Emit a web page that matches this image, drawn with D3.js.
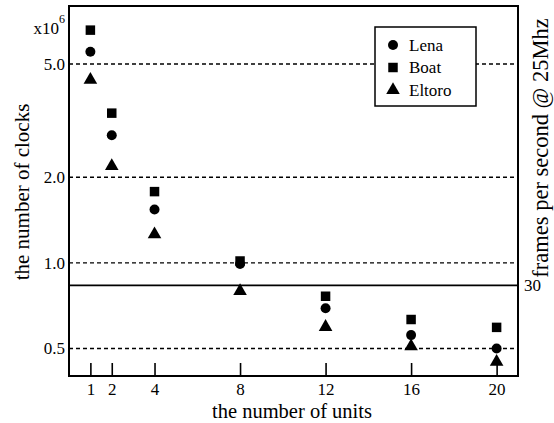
<!DOCTYPE html>
<html>
<head>
<meta charset="utf-8">
<script src="https://cdn.jsdelivr.net/npm/d3@7"></script>
<style>
  body { margin: 0; background: #fff; }
  svg text { font-family: "Liberation Serif", "DejaVu Serif", serif; fill: #000; }
</style>
</head>
<body>
<svg id="chart" width="554" height="423"></svg>
<script>
// units on the x axis
const units = [1, 2, 4, 8, 12, 16, 20];
// clocks, in millions
const lena = [5.52, 2.81, 1.54, 0.99, 0.692, 0.557, 0.50];
const boat = [6.58, 3.36, 1.78, 1.015, 0.763, 0.632, 0.593];
const eltoro = [4.40, 2.19, 1.26, 0.796, 0.595, 0.509, 0.449];
const yTicks = [0.5, 1.0, 2.0, 5.0];
const fpsLimit = 25e6 / 30 / 1e6; // 30 frames per second at 25 MHz

const series = [
  { name: 'Lena', values: lena, symbol: d3.symbolCircle, size: 78 },
  { name: 'Boat', values: boat, symbol: d3.symbolSquare, size: 90 },
  { name: 'Eltoro', values: eltoro, symbol: d3.symbolTriangle, size: 80 }
];

const margin = { top: 6, right: 36, bottom: 47, left: 69 };
const width = 554 - margin.left - margin.right;
const height = 423 - margin.top - margin.bottom;

const svg = d3.select('#chart');
const g = svg.append('g').attr('transform', `translate(${margin.left},${margin.top})`);

const x = d3.scaleLinear().domain([0, 21]).range([0, width]);
const y = d3.scaleLog().domain([0.4, 8]).range([height, 0]);

// dashed grid lines
g.selectAll('.grid')
  .data(yTicks)
  .enter()
  .append('line')
  .attr('class', 'grid')
  .attr('x1', 0)
  .attr('x2', width)
  .attr('y1', d => y(d))
  .attr('y2', d => y(d))
  .attr('stroke', '#000')
  .attr('stroke-width', 1.4)
  .attr('stroke-dasharray', '4,3');

// left tick labels
g.selectAll('.ylab')
  .data(yTicks)
  .enter()
  .append('text')
  .attr('x', -4)
  .attr('y', d => y(d))
  .attr('dy', '0.35em')
  .attr('text-anchor', 'end')
  .attr('font-size', 17)
  .text(d => d.toFixed(1));

// x10^6 multiplier
const mult = g.append('text').attr('x', -4).attr('y', 28).attr('text-anchor', 'end').attr('font-size', 17);
mult.append('tspan').text('x10');
mult.append('tspan').attr('dy', -11).attr('font-size', 12).text('6');

// 30 fps line
g.append('line')
  .attr('x1', 0).attr('x2', width)
  .attr('y1', y(fpsLimit)).attr('y2', y(fpsLimit))
  .attr('stroke', '#000').attr('stroke-width', 1.6);

g.append('text')
  .attr('x', width + 6)
  .attr('y', y(fpsLimit))
  .attr('dy', '0.35em')
  .attr('font-size', 17)
  .text('30');

// x ticks pointing up from the bottom
const xAxis = d3.axisBottom(x).tickValues(units).tickSize(-13).tickPadding(6);
const xg = g.append('g')
  .attr('transform', `translate(0,${height})`)
  .call(xAxis);
xg.select('.domain').remove();
xg.selectAll('.tick line').attr('stroke', '#000').attr('stroke-width', 1.6);
xg.selectAll('.tick text')
  .attr('font-size', 17)
  .attr('font-family', '"Liberation Serif", serif')
  .attr('dy', '0.75em')
  .attr('fill', '#000');

// frame
g.append('rect')
  .attr('x', 0).attr('y', 0)
  .attr('width', width).attr('height', height)
  .attr('fill', 'none')
  .attr('stroke', '#000')
  .attr('stroke-width', 2);

// markers
series.forEach(s => {
  g.selectAll(null)
    .data(s.values)
    .enter()
    .append('path')
    .attr('d', d3.symbol().type(s.symbol).size(s.size))
    .attr('transform', (d, i) => `translate(${x(units[i])},${y(d)})`)
    .attr('fill', '#000');
});

// legend
const legend = g.append('g').attr('transform', 'translate(306,21)');
legend.append('rect')
  .attr('width', 101).attr('height', 79)
  .attr('fill', '#fff')
  .attr('stroke', '#000')
  .attr('stroke-width', 1.5);
series.forEach((s, i) => {
  const row = legend.append('g').attr('transform', `translate(18,${18 + i * 22.5})`);
  row.append('path')
    .attr('d', d3.symbol().type(s.symbol).size(s.size))
    .attr('fill', '#000');
  row.append('text')
    .attr('x', 16)
    .attr('dy', '0.35em')
    .attr('font-size', 17)
    .text(s.name);
});

// axis titles
svg.append('text')
  .attr('x', 292)
  .attr('y', 418)
  .attr('text-anchor', 'middle')
  .attr('font-size', 20.5)
  .text('the number of units');

svg.append('text')
  .attr('transform', 'translate(29,192) rotate(-90)')
  .attr('text-anchor', 'middle')
  .attr('font-size', 21)
  .text('the number of clocks');

svg.append('text')
  .attr('transform', 'translate(548,148) rotate(-90)')
  .attr('text-anchor', 'middle')
  .attr('font-size', 22.5)
  .text('frames per second @ 25Mhz');
</script>
</body>
</html>
